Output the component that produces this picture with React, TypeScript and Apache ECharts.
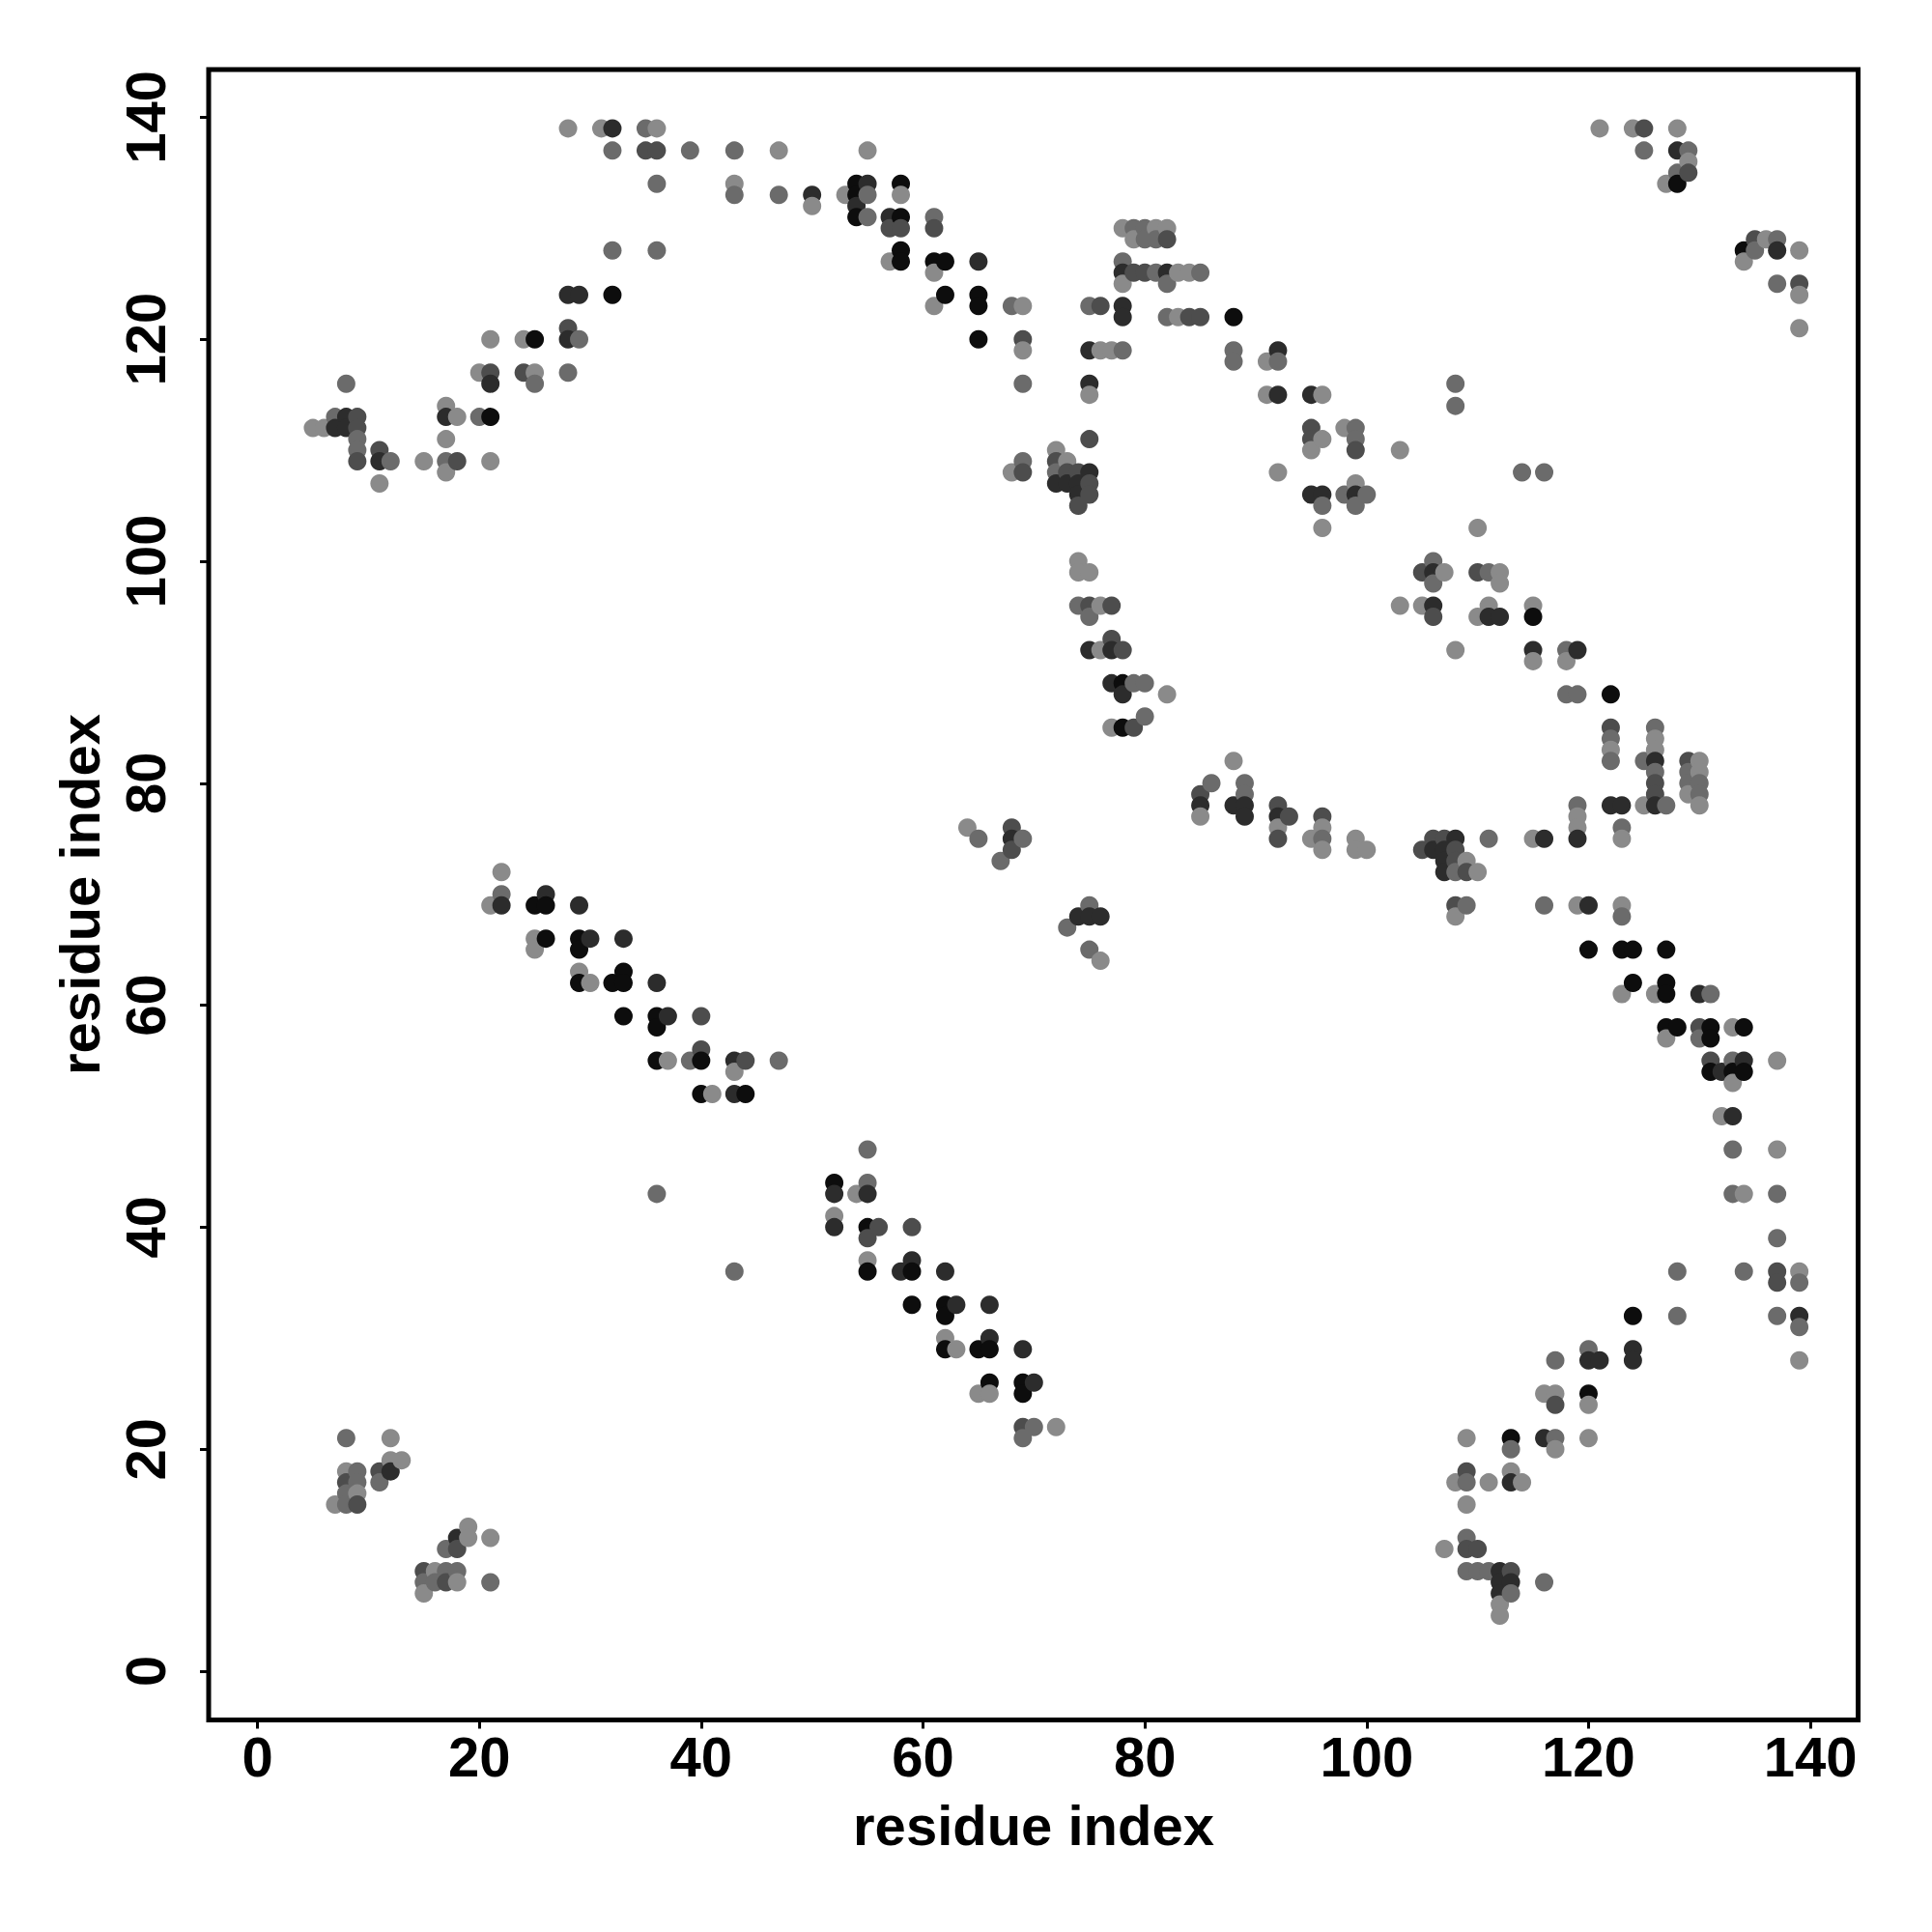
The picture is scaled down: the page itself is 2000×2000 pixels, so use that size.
import React, { useEffect, useRef } from "react";
import * as echarts from "echarts";

const tickValues = [0, 20, 40, 60, 80, 100, 120, 140];
const xTitle = "residue index";
const yTitle = "residue index";
// shade level 1 (darkest) .. 5 (lightest)
const shadeColors = ["#0d0d0d", "#2c2c2c", "#4d4d4d", "#6b6b6b", "#8a8a8a"];

// [i, j, shade level]
const contacts: number[][] = [
  [5, 112, 5], [6, 112, 5],
  [7, 113, 4], [7, 112, 2], [7, 15, 5],
  [8, 116, 4], [8, 113, 2], [8, 112, 2], [8, 21, 4], [8, 18, 5], [8, 17, 3], [8, 16, 4], [8, 15, 4],
  [9, 113, 3], [9, 112, 3], [9, 111, 4], [9, 110, 4], [9, 109, 3], [9, 18, 4], [9, 17, 4], [9, 16, 5], [9, 15, 3],
  [11, 110, 3], [11, 109, 2], [11, 107, 5], [11, 18, 3], [11, 17, 4],
  [12, 109, 4], [12, 21, 5], [12, 19, 5], [12, 18, 2],
  [13, 19, 5],
  [15, 109, 5], [15, 9, 3], [15, 8, 4], [15, 7, 5],
  [16, 9, 5], [16, 8, 4],
  [17, 114, 5], [17, 113, 2], [17, 111, 5], [17, 109, 4], [17, 108, 5], [17, 11, 4], [17, 9, 4], [17, 8, 3],
  [18, 113, 5], [18, 109, 3], [18, 12, 2], [18, 11, 3], [18, 9, 4], [18, 8, 5],
  [19, 13, 5], [19, 12, 5],
  [20, 117, 5], [20, 113, 4],
  [21, 120, 5], [21, 117, 3], [21, 116, 2], [21, 113, 1], [21, 109, 5], [21, 69, 5], [21, 12, 5], [21, 8, 4],
  [22, 72, 5], [22, 70, 4], [22, 69, 2],
  [24, 120, 5], [24, 117, 3],
  [25, 120, 1], [25, 117, 5], [25, 116, 4], [25, 69, 1], [25, 66, 5], [25, 65, 5],
  [26, 70, 2], [26, 69, 1], [26, 66, 1],
  [28, 139, 5], [28, 124, 2], [28, 121, 3], [28, 120, 2], [28, 117, 4],
  [29, 124, 2], [29, 120, 4], [29, 69, 2], [29, 66, 1], [29, 65, 1], [29, 63, 5], [29, 62, 1],
  [30, 66, 2], [30, 62, 5],
  [31, 139, 5],
  [32, 139, 2], [32, 137, 4], [32, 128, 4], [32, 124, 1], [32, 62, 1],
  [33, 66, 2], [33, 63, 1], [33, 62, 1], [33, 59, 1],
  [35, 139, 4], [35, 137, 3],
  [36, 139, 5], [36, 137, 3], [36, 134, 4], [36, 128, 4], [36, 62, 2], [36, 59, 1], [36, 58, 1], [36, 55, 1], [36, 43, 4],
  [37, 59, 2], [37, 55, 5],
  [39, 137, 4], [39, 55, 4],
  [40, 59, 3], [40, 56, 3], [40, 55, 1], [40, 52, 1],
  [41, 52, 5],
  [43, 137, 4], [43, 134, 5], [43, 133, 4], [43, 55, 2], [43, 54, 5], [43, 52, 2], [43, 36, 4],
  [44, 55, 3], [44, 52, 1],
  [47, 137, 5], [47, 133, 4], [47, 55, 4],
  [50, 133, 2], [50, 132, 5],
  [52, 44, 1], [52, 43, 2], [52, 41, 5], [52, 40, 2],
  [53, 133, 5],
  [54, 134, 1], [54, 133, 1], [54, 132, 2], [54, 131, 1], [54, 43, 5],
  [55, 137, 5], [55, 134, 2], [55, 133, 4], [55, 131, 4], [55, 47, 4], [55, 44, 4], [55, 43, 2], [55, 40, 1], [55, 39, 3], [55, 37, 5], [55, 36, 1],
  [56, 40, 3],
  [57, 131, 2], [57, 130, 3], [57, 127, 5],
  [58, 134, 1], [58, 133, 5], [58, 131, 1], [58, 130, 3], [58, 128, 1], [58, 127, 1], [58, 36, 2],
  [59, 40, 3], [59, 37, 2], [59, 36, 1], [59, 33, 1],
  [61, 131, 4], [61, 130, 3], [61, 127, 1], [61, 126, 5], [61, 123, 5],
  [62, 127, 1], [62, 124, 1], [62, 36, 2], [62, 33, 1], [62, 32, 1], [62, 30, 5], [62, 29, 1],
  [63, 33, 2], [63, 29, 5],
  [64, 76, 5],
  [65, 127, 2], [65, 124, 1], [65, 123, 1], [65, 120, 1], [65, 75, 4], [65, 29, 1], [65, 25, 5],
  [66, 33, 2], [66, 30, 2], [66, 29, 1], [66, 26, 1], [66, 25, 5],
  [67, 73, 4],
  [68, 123, 4], [68, 108, 5], [68, 76, 3], [68, 75, 2], [68, 74, 3],
  [69, 123, 5], [69, 120, 3], [69, 119, 5], [69, 116, 4], [69, 109, 4], [69, 108, 3], [69, 75, 4], [69, 29, 2], [69, 26, 1], [69, 25, 1], [69, 22, 3], [69, 21, 4],
  [70, 26, 2], [70, 22, 4],
  [72, 110, 5], [72, 109, 3], [72, 108, 4], [72, 107, 2], [72, 22, 5],
  [73, 109, 5], [73, 108, 3], [73, 107, 2], [73, 67, 4],
  [74, 108, 3], [74, 107, 2], [74, 106, 2], [74, 105, 3], [74, 100, 5], [74, 99, 5], [74, 96, 4], [74, 68, 2],
  [75, 123, 4], [75, 119, 2], [75, 116, 2], [75, 115, 5], [75, 111, 3], [75, 108, 2], [75, 107, 3], [75, 106, 3], [75, 99, 5], [75, 96, 3], [75, 95, 4], [75, 92, 2], [75, 69, 4], [75, 68, 2], [75, 65, 4],
  [76, 123, 3], [76, 119, 5], [76, 96, 5], [76, 92, 5], [76, 68, 2], [76, 64, 5],
  [77, 119, 5], [77, 96, 3], [77, 93, 3], [77, 92, 2], [77, 89, 2], [77, 85, 5],
  [78, 130, 5], [78, 127, 4], [78, 126, 2], [78, 125, 5], [78, 123, 2], [78, 122, 2], [78, 119, 4], [78, 92, 3], [78, 89, 1], [78, 88, 2], [78, 85, 1],
  [79, 130, 4], [79, 129, 5], [79, 126, 3], [79, 89, 4], [79, 85, 3],
  [80, 130, 4], [80, 129, 4], [80, 126, 3], [80, 89, 4], [80, 86, 4],
  [81, 130, 5], [81, 129, 4], [81, 126, 4],
  [82, 130, 5], [82, 129, 3], [82, 126, 2], [82, 125, 4], [82, 122, 4], [82, 88, 5],
  [83, 126, 5], [83, 122, 5],
  [84, 126, 5], [84, 122, 3],
  [85, 126, 4], [85, 122, 3], [85, 79, 3], [85, 78, 2], [85, 77, 5],
  [86, 80, 4],
  [88, 122, 1], [88, 119, 4], [88, 118, 4], [88, 82, 5], [88, 78, 2],
  [89, 80, 4], [89, 79, 4], [89, 78, 2], [89, 77, 2],
  [91, 118, 5], [91, 115, 5],
  [92, 119, 2], [92, 118, 4], [92, 115, 2], [92, 108, 5], [92, 78, 3], [92, 77, 2], [92, 76, 5], [92, 75, 3],
  [93, 77, 3],
  [95, 115, 2], [95, 112, 3], [95, 111, 3], [95, 110, 5], [95, 106, 2], [95, 75, 5],
  [96, 115, 5], [96, 111, 5], [96, 106, 2], [96, 105, 4], [96, 103, 5], [96, 77, 3], [96, 76, 5], [96, 75, 4], [96, 74, 5],
  [98, 112, 5], [98, 106, 4],
  [99, 112, 4], [99, 111, 4], [99, 110, 3], [99, 107, 5], [99, 106, 2], [99, 105, 4], [99, 75, 5], [99, 74, 5],
  [100, 106, 4], [100, 74, 5],
  [103, 110, 5], [103, 96, 5],
  [105, 99, 3], [105, 96, 5], [105, 74, 3],
  [106, 100, 4], [106, 99, 2], [106, 98, 4], [106, 96, 2], [106, 95, 3], [106, 75, 3], [106, 74, 2],
  [107, 99, 5], [107, 75, 3], [107, 74, 2], [107, 73, 2], [107, 72, 2], [107, 11, 5],
  [108, 116, 4], [108, 114, 4], [108, 92, 5], [108, 75, 2], [108, 74, 3], [108, 73, 3], [108, 72, 4], [108, 69, 3], [108, 68, 5], [108, 17, 5],
  [109, 73, 5], [109, 72, 3], [109, 69, 4], [109, 21, 5], [109, 18, 3], [109, 17, 4], [109, 15, 5], [109, 12, 4], [109, 11, 3], [109, 9, 4],
  [110, 103, 5], [110, 99, 3], [110, 95, 5], [110, 72, 5], [110, 11, 3], [110, 9, 4],
  [111, 99, 4], [111, 96, 5], [111, 95, 2], [111, 75, 4], [111, 17, 5], [111, 9, 4],
  [112, 99, 5], [112, 98, 5], [112, 95, 2], [112, 9, 2], [112, 8, 2], [112, 7, 2], [112, 6, 5], [112, 5, 5],
  [113, 21, 1], [113, 20, 4], [113, 18, 5], [113, 17, 2], [113, 9, 3], [113, 8, 2], [113, 7, 4],
  [114, 108, 4], [114, 17, 5],
  [115, 96, 5], [115, 95, 1], [115, 92, 2], [115, 91, 5], [115, 75, 5],
  [116, 108, 4], [116, 75, 2], [116, 69, 4], [116, 25, 5], [116, 21, 2], [116, 8, 4],
  [117, 28, 4], [117, 25, 5], [117, 24, 3], [117, 21, 4], [117, 20, 5],
  [118, 92, 4], [118, 91, 5], [118, 88, 4],
  [119, 92, 2], [119, 88, 4], [119, 78, 4], [119, 77, 5], [119, 76, 5], [119, 75, 2], [119, 69, 5],
  [120, 69, 2], [120, 65, 1], [120, 29, 4], [120, 28, 2], [120, 25, 1], [120, 24, 5], [120, 21, 5],
  [121, 139, 5], [121, 28, 2],
  [122, 88, 1], [122, 85, 3], [122, 84, 4], [122, 83, 5], [122, 82, 4], [122, 78, 2],
  [123, 78, 2], [123, 76, 4], [123, 75, 5], [123, 69, 5], [123, 68, 4], [123, 65, 1], [123, 61, 5],
  [124, 139, 5], [124, 65, 1], [124, 62, 1], [124, 32, 1], [124, 29, 2], [124, 28, 2],
  [125, 139, 3], [125, 137, 4], [125, 82, 4], [125, 78, 5],
  [126, 85, 4], [126, 84, 5], [126, 83, 5], [126, 82, 2], [126, 81, 4], [126, 80, 3], [126, 79, 3], [126, 78, 2], [126, 61, 5],
  [127, 134, 5], [127, 78, 4], [127, 65, 1], [127, 62, 1], [127, 61, 1], [127, 58, 1], [127, 57, 5],
  [128, 139, 5], [128, 137, 2], [128, 135, 4], [128, 134, 1], [128, 58, 1], [128, 36, 4], [128, 32, 4],
  [129, 137, 4], [129, 136, 5], [129, 135, 3], [129, 82, 3], [129, 81, 4], [129, 80, 4], [129, 79, 5],
  [130, 82, 5], [130, 81, 5], [130, 80, 4], [130, 79, 4], [130, 78, 5], [130, 61, 2], [130, 58, 3], [130, 57, 4],
  [131, 61, 4], [131, 58, 1], [131, 57, 1], [131, 55, 3], [131, 54, 1],
  [132, 54, 2], [132, 50, 5],
  [133, 58, 5], [133, 55, 4], [133, 54, 1], [133, 53, 5], [133, 50, 2], [133, 47, 4], [133, 43, 4],
  [134, 128, 1], [134, 127, 5], [134, 58, 1], [134, 55, 2], [134, 54, 1], [134, 43, 5], [134, 36, 4],
  [135, 129, 3], [135, 128, 4],
  [136, 129, 5],
  [137, 129, 4], [137, 128, 2], [137, 125, 4], [137, 55, 5], [137, 47, 5], [137, 43, 4], [137, 39, 4], [137, 36, 3], [137, 35, 3], [137, 32, 4],
  [139, 128, 5], [139, 125, 3], [139, 124, 5], [139, 121, 5], [139, 36, 5], [139, 35, 4], [139, 32, 2], [139, 31, 4], [139, 28, 5],
];

const FONT = '"Liberation Sans", Arial, Helvetica, sans-serif';

export default function App() {
  const ref = useRef<HTMLDivElement>(null);

  useEffect(() => {
    const el = ref.current;
    if (!el) return;
    const chart = echarts.init(el, null, { renderer: "svg" });

    const axisCommon = {
      type: "value",
      min: -4.4,
      max: 144.3,
      axisLine: { show: false, onZero: false },
      splitLine: { show: false },
      axisLabel: { show: false },
      axisTick: {
        show: true,
        inside: false,
        length: 9,
        customValues: tickValues,
        lineStyle: { color: "#000", width: 3 },
      },
    };

    chart.setOption({
      animation: false,
      backgroundColor: "#ffffff",
      grid: {
        left: 216,
        top: 72,
        right: 76.5,
        bottom: 219.5,
        show: true,
        borderColor: "#000",
        borderWidth: 5,
        backgroundColor: "transparent",
      },
      xAxis: { ...axisCommon, position: "bottom" },
      yAxis: { ...axisCommon, position: "left" },
      series: [
        {
          type: "scatter",
          symbol: "circle",
          symbolSize: 19,
          silent: true,
          data: contacts.map(([x, y, l]) => ({
            value: [x, y],
            itemStyle: { color: shadeColors[l - 1], opacity: 1 },
          })),
        },
      ],
    });

    const textStyle = (text: string) => ({
      text,
      fill: "#000",
      fontFamily: FONT,
      fontWeight: "bold",
      fontSize: 58,
      align: "center",
      verticalAlign: "middle",
      textAlign: "center",
      textVerticalAlign: "middle",
    });

    const elements: any[] = [];
    tickValues.forEach((v) => {
      const px = chart.convertToPixel({ xAxisIndex: 0 }, v) as number;
      const py = chart.convertToPixel({ yAxisIndex: 0 }, v) as number;
      elements.push({ type: "text", x: px, y: 1818, style: textStyle(String(v)) });
      elements.push({
        type: "text",
        x: 150,
        y: py,
        rotation: Math.PI / 2,
        style: textStyle(String(v)),
      });
    });
    elements.push({ type: "text", x: 1070, y: 1889, style: textStyle(xTitle) });
    elements.push({
      type: "text",
      x: 82,
      y: 926,
      rotation: Math.PI / 2,
      style: textStyle(yTitle),
    });

    chart.setOption({ graphic: { elements } });

    return () => chart.dispose();
  }, []);

  return (
    <div
      ref={ref}
      style={{ position: "fixed", left: 0, top: 0, width: 2000, height: 2000, background: "#fff" }}
    />
  );
}
